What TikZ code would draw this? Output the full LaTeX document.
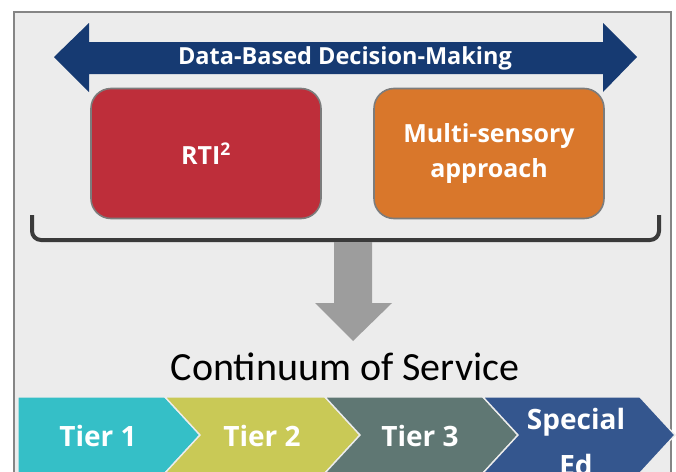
\documentclass[tikz,border=0pt]{standalone}
\usepackage{fontspec}
\setmainfont{Open Sans}
\newfontfamily\carlito{Carlito}
\definecolor{framegray}{HTML}{858585}
\definecolor{panel}{HTML}{ECECEC}
\definecolor{navy}{HTML}{163A72}
\definecolor{rtired}{HTML}{BE2E3A}
\definecolor{msorange}{HTML}{D9772B}
\definecolor{boxedge}{HTML}{7C7C7C}
\definecolor{bracket}{HTML}{3A3A3A}
\definecolor{downgray}{HTML}{9D9D9D}
\definecolor{tierA}{HTML}{35BFC7}
\definecolor{tierB}{HTML}{C9C956}
\definecolor{tierC}{HTML}{5F7773}
\definecolor{tierD}{HTML}{34568E}
\tikzset{
  panelbox/.style={rounded corners=20pt, draw=boxedge, line width=1.6pt,
    minimum width=230pt, minimum height=130pt, inner sep=0pt},
  boxtext/.style={text=white, font=\bfseries\fontsize{25}{35}\selectfont, align=center},
  tiertext/.style={text=white, font=\bfseries\fontsize{28}{46}\selectfont, align=center},
  chevron/.style={draw=panel, line width=1.4pt, line join=miter},
}
\begin{document}
\begin{tikzpicture}[x=1pt,y=-1pt]
  \useasboundingbox (0,0) rectangle (676,471);
  \clip (0,0) rectangle (676,471);
  \fill[white] (0,0) rectangle (676,471);
  % outer panel
  \filldraw[fill=panel, draw=framegray, line width=1.6pt] (14,12) rectangle (671,480);

  % two-headed decision arrow
  \fill[navy] (54,57) -- (89,23) -- (89,42) -- (603,42) -- (603,23) -- (637,57)
    -- (603,92) -- (603,74) -- (89,74) -- (89,92) -- cycle;
  \node[text=white, font=\bfseries\fontsize{23.5}{28}\selectfont] (dbdm) at (345,58) {Data-Based Decision-Making};

  % the two approaches
  \node[panelbox, fill=rtired] (rti) at (206,153.5) {};
  \node[boxtext] at (rti.center) {RTI\textsuperscript{2}};
  \node[panelbox, fill=msorange] (ms) at (489,153.5) {};
  \node[boxtext] at (ms.center) {Multi-sensory\\approach};

  % bracket gathering both
  \coordinate (bl) at (32,215);
  \coordinate (br) at (659,215);
  \draw[bracket, line width=4pt, rounded corners=9pt] (bl) -- (32,240) -- (659,240) -- (br);

  % gray arrow down to the service continuum
  \fill[downgray] (334,242) -- (372,242) -- (372,303) -- (392,303) -- (353,341)
    -- (315,303) -- (334,303) -- cycle;
  \node[font=\carlito\fontsize{40}{42}\selectfont, anchor=base] (cos) at (345,380)
    {Continuum of Service};

  % tiers
  \filldraw[chevron, fill=tierA] (18,397) -- (165,397) -- (200,435) -- (165,473) -- (18,473) -- cycle;
  \filldraw[chevron, fill=tierB] (165,397) -- (325,397) -- (360,435) -- (325,473) -- (165,473) -- (200,435) -- cycle;
  \filldraw[chevron, fill=tierC] (325,397) -- (483,397) -- (518,435) -- (483,473) -- (325,473) -- (360,435) -- cycle;
  \filldraw[chevron, fill=tierD] (483,397) -- (640,397) -- (675,435) -- (640,473) -- (483,473) -- (518,435) -- cycle;
  \node[tiertext] (t1) at (98,436) {Tier 1};
  \node[tiertext] (t2) at (262,436) {Tier 2};
  \node[tiertext] (t3) at (420,436) {Tier 3};
  \node[tiertext] (t4) at (576,442) {Special\\Ed};
\end{tikzpicture}
\end{document}
